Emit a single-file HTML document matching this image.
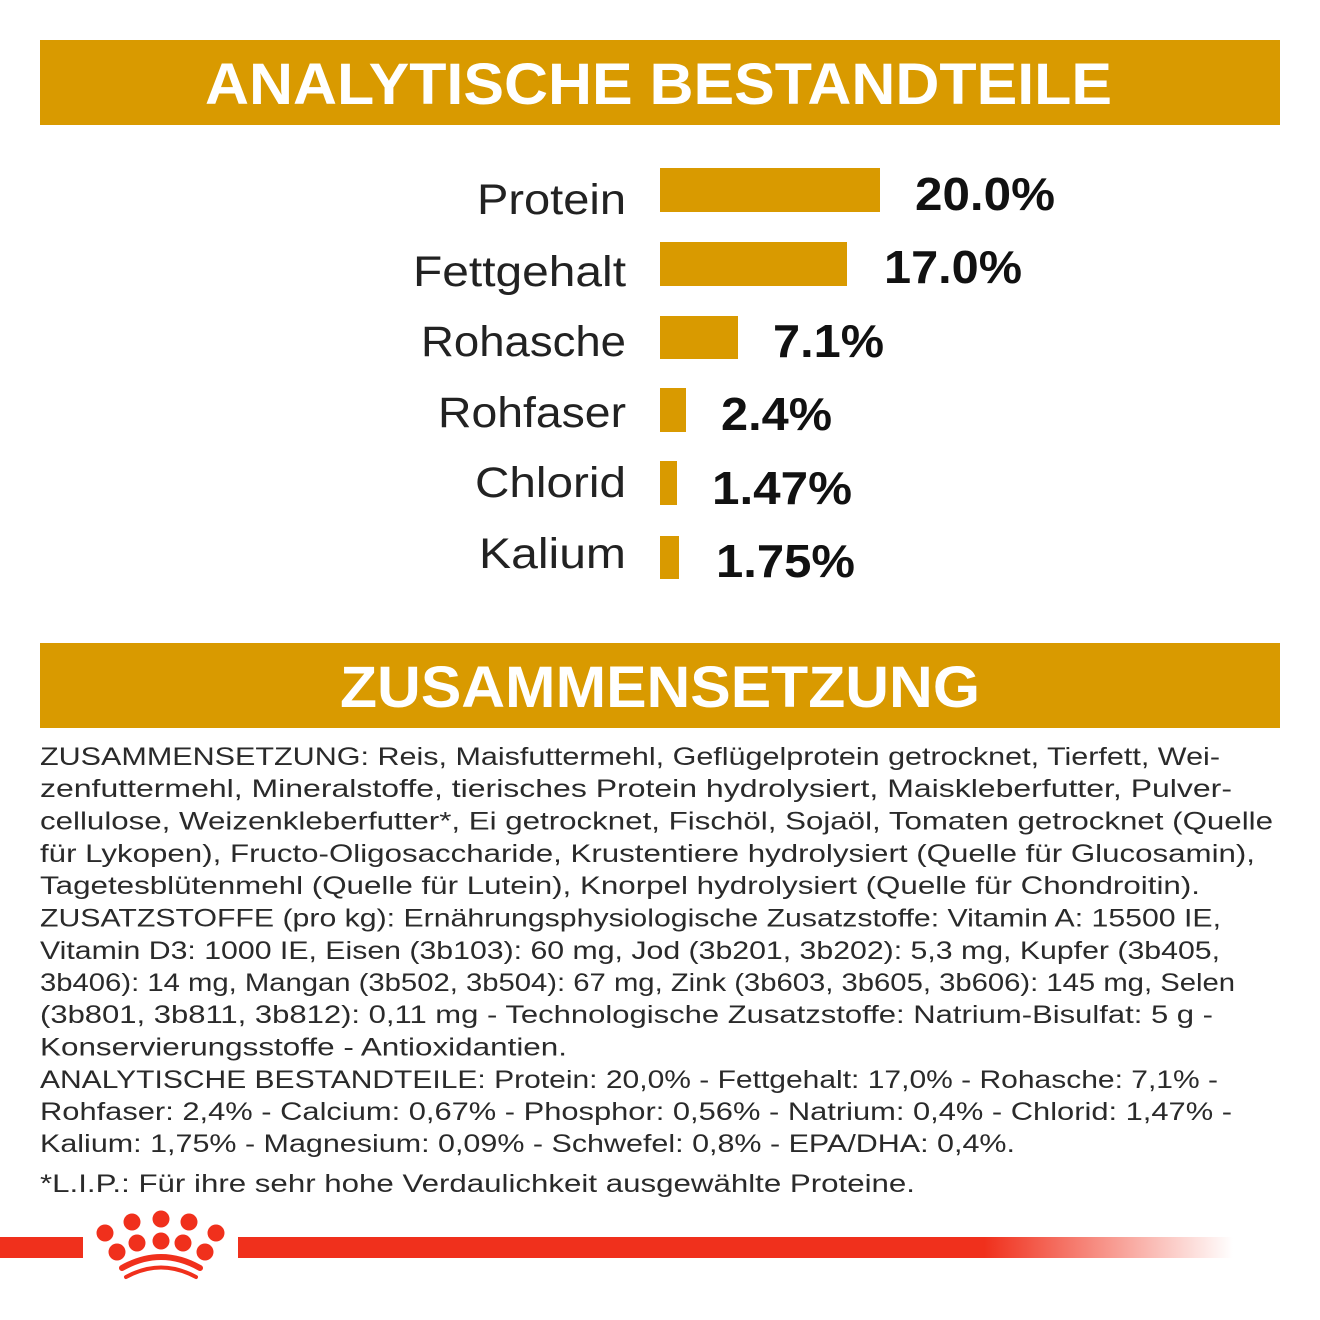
<!DOCTYPE html>
<html><head><meta charset="utf-8"><style>
html,body{margin:0;padding:0;background:#fff;width:1320px;height:1320px;overflow:hidden}
svg{display:block}
text{font-family:"Liberation Sans",sans-serif}
.b{font-size:25px;fill:#2a2a2a}
.l{font-size:43px;fill:#222;text-anchor:end}
.v{font-size:46px;font-weight:bold;fill:#111}
.h{font-size:58px;font-weight:bold;fill:#fff}
</style></head><body>
<svg width="1320" height="1320" viewBox="0 0 1320 1320" xmlns="http://www.w3.org/2000/svg">
<defs><linearGradient id="g" x1="0" x2="1"><stop offset="0.75" stop-color="#f0301c"/><stop offset="1" stop-color="#f0301c" stop-opacity="0"/></linearGradient></defs>
<rect x="40" y="40" width="1240" height="85" fill="#d99a00"/>
<text class="h" x="205" y="104" textLength="907" lengthAdjust="spacingAndGlyphs">ANALYTISCHE BESTANDTEILE</text>
<rect x="40" y="643" width="1240" height="85" fill="#d99a00"/>
<text class="h" x="340" y="707" textLength="640" lengthAdjust="spacingAndGlyphs">ZUSAMMENSETZUNG</text>

<g fill="#d99a00">
<rect x="660" y="168" width="220" height="44"/>
<rect x="660" y="242" width="187" height="44"/>
<rect x="660" y="316" width="78" height="43"/>
<rect x="660" y="388" width="26" height="44"/>
<rect x="660" y="461" width="17" height="44"/>
<rect x="660" y="536" width="19" height="43"/>
</g>
<text class="l" x="626" y="214" textLength="149" lengthAdjust="spacingAndGlyphs">Protein</text>
<text class="l" x="626" y="286" textLength="213" lengthAdjust="spacingAndGlyphs">Fettgehalt</text>
<text class="l" x="626" y="356" textLength="205" lengthAdjust="spacingAndGlyphs">Rohasche</text>
<text class="l" x="626" y="427" textLength="188" lengthAdjust="spacingAndGlyphs">Rohfaser</text>
<text class="l" x="626" y="497" textLength="151" lengthAdjust="spacingAndGlyphs">Chlorid</text>
<text class="l" x="626" y="568" textLength="147" lengthAdjust="spacingAndGlyphs">Kalium</text>
<text class="v" x="915" y="210" textLength="140" lengthAdjust="spacingAndGlyphs">20.0%</text>
<text class="v" x="884" y="283" textLength="138" lengthAdjust="spacingAndGlyphs">17.0%</text>
<text class="v" x="773" y="357" textLength="111" lengthAdjust="spacingAndGlyphs">7.1%</text>
<text class="v" x="721" y="430" textLength="111" lengthAdjust="spacingAndGlyphs">2.4%</text>
<text class="v" x="712" y="504" textLength="140" lengthAdjust="spacingAndGlyphs">1.47%</text>
<text class="v" x="716" y="577" textLength="139" lengthAdjust="spacingAndGlyphs">1.75%</text>

<g class="b">
<text class="b" x="40" y="765" textLength="1180" lengthAdjust="spacingAndGlyphs">ZUSAMMENSETZUNG: Reis, Maisfuttermehl, Geflügelprotein getrocknet, Tierfett, Wei-</text>
<text class="b" x="40" y="797" textLength="1192" lengthAdjust="spacingAndGlyphs">zenfuttermehl, Mineralstoffe, tierisches Protein hydrolysiert, Maiskleberfutter, Pulver-</text>
<text class="b" x="40" y="829.5" textLength="1233" lengthAdjust="spacingAndGlyphs">cellulose, Weizenkleberfutter*, Ei getrocknet, Fischöl, Sojaöl, Tomaten getrocknet (Quelle</text>
<text class="b" x="40" y="862" textLength="1215" lengthAdjust="spacingAndGlyphs">für Lykopen), Fructo-Oligosaccharide, Krustentiere hydrolysiert (Quelle für Glucosamin),</text>
<text class="b" x="40" y="894" textLength="1160" lengthAdjust="spacingAndGlyphs">Tagetesblütenmehl (Quelle für Lutein), Knorpel hydrolysiert (Quelle für Chondroitin).</text>
<text class="b" x="40" y="926.5" textLength="1181" lengthAdjust="spacingAndGlyphs">ZUSATZSTOFFE (pro kg): Ernährungsphysiologische Zusatzstoffe: Vitamin A: 15500 IE,</text>
<text class="b" x="40" y="959" textLength="1180" lengthAdjust="spacingAndGlyphs">Vitamin D3: 1000 IE, Eisen (3b103): 60 mg, Jod (3b201, 3b202): 5,3 mg, Kupfer (3b405,</text>
<text class="b" x="40" y="991" textLength="1195" lengthAdjust="spacingAndGlyphs">3b406): 14 mg, Mangan (3b502, 3b504): 67 mg, Zink (3b603, 3b605, 3b606): 145 mg, Selen</text>
<text class="b" x="40" y="1023" textLength="1173" lengthAdjust="spacingAndGlyphs">(3b801, 3b811, 3b812): 0,11 mg - Technologische Zusatzstoffe: Natrium-Bisulfat: 5 g -</text>
<text class="b" x="40" y="1055.5" textLength="527" lengthAdjust="spacingAndGlyphs">Konservierungsstoffe - Antioxidantien.</text>
<text class="b" x="40" y="1088" textLength="1178" lengthAdjust="spacingAndGlyphs">ANALYTISCHE BESTANDTEILE: Protein: 20,0% - Fettgehalt: 17,0% - Rohasche: 7,1% -</text>
<text class="b" x="40" y="1120" textLength="1192" lengthAdjust="spacingAndGlyphs">Rohfaser: 2,4% - Calcium: 0,67% - Phosphor: 0,56% - Natrium: 0,4% - Chlorid: 1,47% -</text>
<text class="b" x="40" y="1152" textLength="975" lengthAdjust="spacingAndGlyphs">Kalium: 1,75% - Magnesium: 0,09% - Schwefel: 0,8% - EPA/DHA: 0,4%.</text>
<text class="b" x="40" y="1192" textLength="875" lengthAdjust="spacingAndGlyphs">*L.I.P.: Für ihre sehr hohe Verdaulichkeit ausgewählte Proteine.</text>
</g>

<rect x="0" y="1237" width="83" height="21" fill="#f0301c"/>
<rect x="238" y="1237" width="995" height="21" fill="url(#g)"/>
<g fill="#f0301c">
<circle cx="105" cy="1233" r="8.5"/><circle cx="132" cy="1222" r="8.5"/><circle cx="161" cy="1219" r="8.5"/><circle cx="189" cy="1222" r="8.5"/><circle cx="216" cy="1233" r="8.5"/>
<circle cx="117" cy="1252" r="8.5"/><circle cx="137" cy="1243" r="8.5"/><circle cx="161" cy="1241" r="8.5"/><circle cx="183" cy="1243" r="8.5"/><circle cx="205" cy="1252" r="8.5"/>
</g>
<path d="M122 1268 Q161 1246 200 1268" stroke="#f0301c" stroke-width="6" fill="none" stroke-linecap="round"/>
<path d="M126 1277 Q161 1258 196 1277" stroke="#f0301c" stroke-width="4" fill="none" stroke-linecap="round"/>
</svg>
</body></html>
